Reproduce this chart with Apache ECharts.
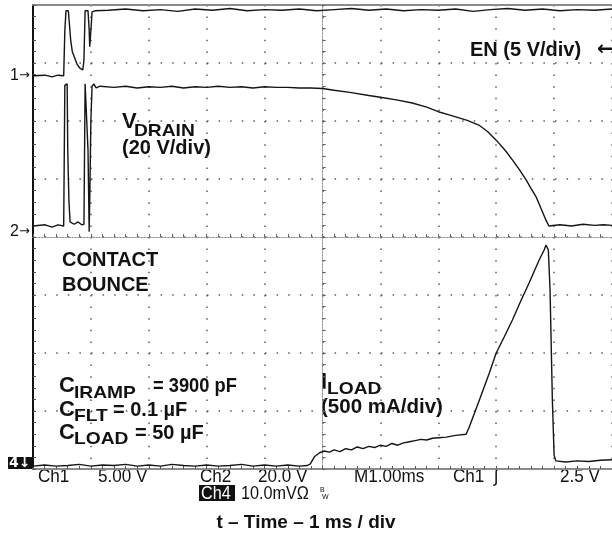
<!DOCTYPE html>
<html>
<head>
<meta charset="utf-8">
<script src="https://cdn.jsdelivr.net/npm/echarts@6/dist/echarts.min.js"></script>
<style>
html, body { margin: 0; padding: 0; background: #fff; }
#chart { width: 612px; height: 540px; }
</style>
</head>
<body>
<div id="chart"></div>
<script>
// scope screen: 10 div x 8 div, 1 ms/div
// every trace point is [time in ms, level in div from the centre line]
var enTrace = [
    [0, 2.78], [0.21, 2.79], [0.33, 2.76], [0.43, 2.79], [0.53, 2.78], [0.55, 3.57],
    [0.57, 3.90], [0.61, 3.90], [0.63, 3.66], [0.65, 3.40], [0.68, 3.19], [0.72, 3.09],
    [0.76, 2.98], [0.81, 2.91], [0.86, 2.88], [0.88, 3.05], [0.90, 3.90], [0.95, 3.90],
    [0.97, 3.57], [0.98, 3.28], [1.00, 3.57], [1.02, 3.88], [1.07, 3.90],
    [1.3, 3.91], [1.6, 3.93], [1.9, 3.90], [2.2, 3.92], [2.5, 3.89], [2.8, 3.93],
    [3.1, 3.91], [3.4, 3.94], [3.7, 3.90], [4.0, 3.92], [4.3, 3.91], [4.6, 3.93],
    [4.9, 3.90], [5.2, 3.92], [5.5, 3.94], [5.8, 3.91], [6.1, 3.93], [6.4, 3.90],
    [6.7, 3.92], [7.0, 3.91], [7.3, 3.93], [7.6, 3.89], [7.9, 3.92], [8.2, 3.94],
    [8.5, 3.91], [8.8, 3.93], [9.1, 3.90], [9.4, 3.92], [9.7, 3.91], [10, 3.93]
];
var drainTrace = [
    [0, 0.19], [0.21, 0.21], [0.33, 0.17], [0.43, 0.21], [0.53, 0.19], [0.55, 2.62],
    [0.59, 2.64], [0.60, 1.50], [0.62, 0.64], [0.64, 0.26], [0.71, 0.22], [0.78, 0.26],
    [0.84, 0.21], [0.88, 0.22], [0.90, 2.64], [0.93, 2.62], [0.95, 1.50], [0.97, 0.09],
    [0.98, 0.64], [1.00, 2.02], [1.02, 2.60], [1.05, 2.64], [1.09, 2.57], [1.16, 2.60],
    [1.4, 2.58], [1.6, 2.60], [1.8, 2.57], [2.0, 2.59], [2.2, 2.58], [2.4, 2.60],
    [2.6, 2.57], [2.8, 2.59], [3.0, 2.58], [3.2, 2.60], [3.4, 2.58], [3.6, 2.59],
    [3.8, 2.57], [4.0, 2.59], [4.2, 2.58], [4.4, 2.58], [4.6, 2.57], [4.8, 2.57],
    [5.0, 2.56], [5.2, 2.53], [5.5, 2.49], [5.8, 2.44], [6.0, 2.41], [6.3, 2.36],
    [6.55, 2.31], [6.8, 2.24], [7.0, 2.16], [7.2, 2.10], [7.5, 2.01], [7.7, 1.93],
    [7.85, 1.82], [8.0, 1.67], [8.15, 1.50], [8.28, 1.33], [8.4, 1.16], [8.52, 0.98],
    [8.6, 0.84], [8.69, 0.69], [8.78, 0.48], [8.86, 0.29], [8.91, 0.19], [9.1, 0.21],
    [9.3, 0.19], [9.5, 0.22], [9.7, 0.20], [9.85, 0.21], [10, 0.20]
];
var loadTrace = [
    [0, -3.95], [0.2, -3.93], [0.4, -3.95], [0.6, -3.94], [0.8, -3.92], [1.0, -3.95],
    [1.2, -3.93], [1.4, -3.94], [1.6, -3.92], [1.8, -3.95], [2.0, -3.93], [2.2, -3.95],
    [2.4, -3.92], [2.6, -3.94], [2.8, -3.95], [3.0, -3.93], [3.2, -3.95], [3.4, -3.94],
    [3.6, -3.92], [3.8, -3.95], [4.0, -3.93], [4.2, -3.95], [4.4, -3.93], [4.6, -3.95],
    [4.74, -3.94], [4.79, -3.91], [4.86, -3.79], [4.95, -3.72], [5.03, -3.69], [5.12, -3.71],
    [5.2, -3.67], [5.3, -3.70], [5.4, -3.65], [5.5, -3.67], [5.6, -3.62], [5.7, -3.65],
    [5.8, -3.61], [5.9, -3.63], [6.0, -3.59], [6.1, -3.61], [6.2, -3.56], [6.3, -3.59],
    [6.4, -3.55], [6.5, -3.53], [6.6, -3.51], [6.7, -3.49], [6.8, -3.50], [6.9, -3.47],
    [7.0, -3.46], [7.14, -3.45], [7.3, -3.42], [7.48, -3.40], [7.53, -3.29], [7.71, -2.81],
    [7.88, -2.35], [8.0, -2.00], [8.14, -1.72], [8.28, -1.43], [8.43, -1.09], [8.57, -0.79],
    [8.74, -0.40], [8.83, -0.22], [8.86, -0.14], [8.90, -0.22], [8.93, -0.91], [8.97, -2.81],
    [9.0, -3.76], [9.03, -3.86], [9.2, -3.88], [9.4, -3.86], [9.6, -3.87], [9.8, -3.85],
    [10, -3.84]
];

// scope settings row under the screen
var settingLabels = ['Ch1', '5.00 V', 'Ch2', '20.0 V', 'M1.00ms', 'Ch1', '\u222B', '2.5 V'];
var settingLeft = [38, 98, 200, 258, 354, 453, 494, 560];

var FONT = '"Liberation Sans", Arial, sans-serif';
var SYM = '"DejaVu Sans", sans-serif';

function label(x, y, text, size, bold, more) {
    more = more || {};
    var el = {
        type: 'text', x: x, y: y, silent: true,
        style: {
            text: text,
            fill: more.fill || '#111',
            font: (bold ? 'bold ' : '') + size + 'px ' + (more.family || FONT),
            textAlign: more.align || 'left',
            textVerticalAlign: 'middle'
        }
    };
    if (more.scaleX) el.scaleX = more.scaleX;
    return el;
}
// subscript letters are wide in the original
function sub(x, y, text) {
    return label(x, y, text, 17, true, {scaleX: 1.13});
}

var graphics = [
    // annotations
    label(470, 50, 'EN (5 V/div)', 20, true),
    label(597, 50, '\u2190', 20, true, {family: SYM}),
    label(122, 122, 'V', 22, true),
    sub(134, 131, 'DRAIN'),
    label(122, 148, '(20 V/div)', 20, true),
    label(62, 260, 'CONTACT', 20, true),
    label(62, 285, 'BOUNCE', 20, true),
    label(321, 382, 'I', 22, true),
    sub(327, 389, 'LOAD'),
    label(321, 407, '(500 mA/div)', 20.5, true),
    label(59, 386, 'C', 22, true),
    sub(74, 393, 'IRAMP'),
    label(153, 386, '= 3900 pF', 21, true, {scaleX: 0.87}),
    label(59, 410, 'C', 22, true),
    sub(74, 416, 'FLT'),
    label(113, 410, '= 0.1 \u00B5F', 20, true),
    label(59, 433, 'C', 22, true),
    sub(74, 439, 'LOAD'),
    label(135, 433, '= 50 \u00B5F', 20, true),
    // channel reference markers
    label(10, 76, '1', 16, false),
    label(19, 76, '\u2192', 13, false, {family: SYM}),
    label(10, 232, '2', 16, false),
    label(19, 232, '\u2192', 13, false, {family: SYM}),
    {type: 'rect', silent: true, shape: {x: 8, y: 457, width: 25, height: 12}, style: {fill: '#111'}},
    label(9, 463, '4\u2193', 14, true, {fill: '#fff', family: SYM}),
    // Ch4 line
    {type: 'rect', silent: true, shape: {x: 199, y: 485, width: 36, height: 16}, style: {fill: '#111'}},
    label(201, 494, 'Ch4', 18, false, {fill: '#fff', scaleX: 0.9}),
    label(241, 494, '10.0mV\u03A9', 18, false, {scaleX: 0.9}),
    label(320, 490, 'B', 7, false),
    label(322, 497, 'W', 7, false),
    // axis title
    label(306, 523, 't \u2013 Time \u2013 1 ms / div', 19, true, {align: 'center'})
];
settingLabels.forEach(function (s, i) {
    graphics.push(label(settingLeft[i], 477, s, 18, false, {scaleX: 0.95}));
});

function trace(data) {
    return {
        type: 'line', data: data, xAxisIndex: 0, yAxisIndex: 0,
        showSymbol: false, symbol: 'none', silent: true, clip: false,
        lineStyle: {color: '#151515', width: 1.4}
    };
}

var dots = {color: '#5a5a5a', width: 1.5, type: [1.5, 10.1]};
var centre = {color: '#8a8a8a', width: 1, type: [1, 2]};
var hideLabel = {show: false};

var option = {
    animation: false,
    backgroundColor: '#fff',
    grid: [
        {left: 33, top: 5, width: 580, height: 464, show: false},
        {left: 33, top: 5, width: 580, height: 464, show: false}
    ],
    xAxis: [
        {
            gridIndex: 0, type: 'value', min: 0, max: 10, interval: 1, position: 'bottom',
            axisLine: {onZero: false, lineStyle: {color: '#8c8c8c', width: 2}},
            axisTick: {show: true, inside: true, length: 3, lineStyle: {color: '#555'}},
            minorTick: {show: true, splitNumber: 5, length: 3, lineStyle: {color: '#555'}},
            axisLabel: hideLabel,
            splitLine: {show: true, lineStyle: dots}
        },
        {
            gridIndex: 0, type: 'value', min: 0, max: 10, position: 'top',
            axisLine: {onZero: false, lineStyle: {color: '#8c8c8c', width: 2}},
            axisTick: {show: false}, axisLabel: hideLabel, splitLine: {show: false}
        },
        // centre cross of the graticule, ticks on both sides
        {
            gridIndex: 1, type: 'value', min: -5, max: 5, interval: 0.2,
            axisLine: {onZero: true, lineStyle: centre},
            axisTick: {inside: true, length: 3, lineStyle: {color: '#666'}},
            axisLabel: hideLabel, splitLine: {show: false}
        },
        {
            gridIndex: 1, type: 'value', min: -5, max: 5, interval: 0.2,
            axisLine: {onZero: true, lineStyle: centre},
            axisTick: {inside: false, length: 3, lineStyle: {color: '#666'}},
            axisLabel: hideLabel, splitLine: {show: false}
        }
    ],
    yAxis: [
        {
            gridIndex: 0, type: 'value', min: -4, max: 4, interval: 1, position: 'left',
            axisLine: {onZero: false, lineStyle: {color: '#111', width: 2}},
            axisTick: {show: true, inside: true, length: 3, lineStyle: {color: '#555'}},
            minorTick: {show: true, splitNumber: 5, length: 3, lineStyle: {color: '#555'}},
            axisLabel: hideLabel,
            splitLine: {show: true, lineStyle: dots}
        },
        {
            gridIndex: 1, type: 'value', min: -4, max: 4, interval: 0.2,
            axisLine: {onZero: true, lineStyle: centre},
            axisTick: {inside: true, length: 3, lineStyle: {color: '#666'}},
            axisLabel: hideLabel, splitLine: {show: false}
        },
        {
            gridIndex: 1, type: 'value', min: -4, max: 4, interval: 0.2,
            axisLine: {onZero: true, lineStyle: centre},
            axisTick: {inside: false, length: 3, lineStyle: {color: '#666'}},
            axisLabel: hideLabel, splitLine: {show: false}
        }
    ],
    series: [trace(enTrace), trace(drainTrace), trace(loadTrace)],
    graphic: graphics
};

var chart = echarts.init(document.getElementById('chart'), null, {renderer: 'canvas'});
chart.setOption(option);
</script>
</body>
</html>
